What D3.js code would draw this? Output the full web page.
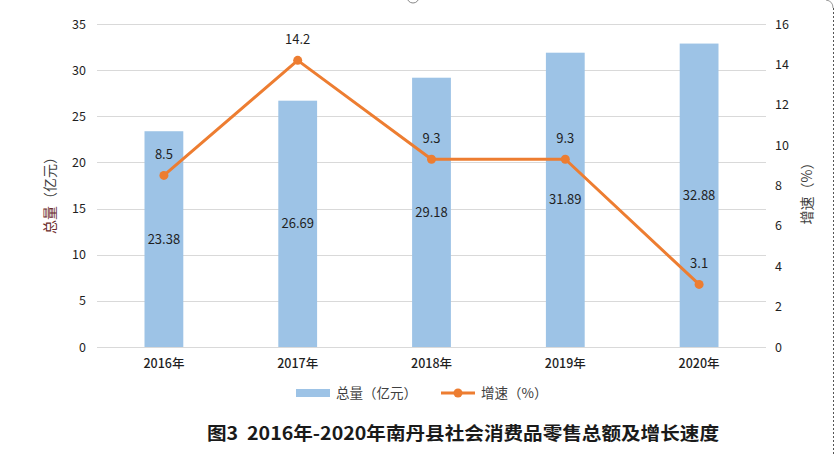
<!DOCTYPE html>
<html>
<head>
<meta charset="utf-8">
<script src="https://cdn.jsdelivr.net/npm/d3@7"></script>
<style>
  html, body { margin: 0; padding: 0; background: #fff; }
  svg text { font-family: "Noto Sans CJK SC", "Noto Sans", sans-serif; }
</style>
</head>
<body>
<div id="chart"></div>
<script>
// 2016-2020 南丹县社会消费品零售总额及增速
const years = ['2016年', '2017年', '2018年', '2019年', '2020年'];
const totals = [23.38, 26.69, 29.18, 31.89, 32.88];   // 亿元
const growth = [8.5, 14.2, 9.3, 9.3, 3.1];            // %
const leftTicks = [0, 5, 10, 15, 20, 25, 30, 35];
const rightTicks = [0, 2, 4, 6, 8, 10, 12, 14, 16];

const W = 836, H = 456;
const plot = { left: 97, right: 766, top: 24, bottom: 347 };
const BAR_COLOR = '#9DC3E6';
const LINE_COLOR = '#ED7D31';
const TEXT_COLOR = '#1f1f1f';

const svg = d3.select('#chart').append('svg')
  .attr('width', W)
  .attr('height', H);

const x = d3.scaleBand()
  .domain(years)
  .range([plot.left, plot.right])
  .paddingInner(0.71)
  .paddingOuter(0.355);

const yL = d3.scaleLinear().domain([0, 35]).range([plot.bottom, plot.top]);
const yR = d3.scaleLinear().domain([0, 16]).range([plot.bottom, plot.top]);

// gridlines
svg.append('g')
  .selectAll('line')
  .data(leftTicks)
  .join('line')
  .attr('x1', plot.left)
  .attr('x2', plot.right)
  .attr('y1', d => Math.round(yL(d)) + 0.5)
  .attr('y2', d => Math.round(yL(d)) + 0.5)
  .attr('stroke', '#d9d9d9')
  .attr('stroke-width', 1);

// left axis
const leftAxis = svg.append('g')
  .attr('transform', `translate(${plot.left},0)`)
  .call(d3.axisLeft(yL).tickValues(leftTicks).tickSize(0).tickPadding(11));
leftAxis.select('.domain').remove();
leftAxis.selectAll('text').attr('font-size', '12.5px').attr('fill', TEXT_COLOR)
  .style('font-family', '"Noto Sans CJK SC", sans-serif');

// right axis
const rightAxis = svg.append('g')
  .attr('transform', `translate(${plot.right},0)`)
  .call(d3.axisRight(yR).tickValues(rightTicks).tickSize(0).tickPadding(9));
rightAxis.select('.domain').remove();
rightAxis.selectAll('text').attr('font-size', '12.5px').attr('fill', TEXT_COLOR)
  .style('font-family', '"Noto Sans CJK SC", sans-serif');

// bottom axis
const bottomAxis = svg.append('g')
  .attr('transform', `translate(0,${plot.bottom})`)
  .call(d3.axisBottom(x).tickSize(0).tickPadding(12));
bottomAxis.select('.domain').remove();
bottomAxis.selectAll('text').attr('font-size', '12.5px').attr('fill', TEXT_COLOR)
  .attr('font-weight', '500')
  .style('font-family', '"Noto Sans CJK SC", sans-serif');

// bars
svg.append('g')
  .selectAll('rect')
  .data(totals)
  .join('rect')
  .attr('x', (d, i) => x(years[i]))
  .attr('y', d => yL(d))
  .attr('width', x.bandwidth())
  .attr('height', d => yL(0) - yL(d))
  .attr('fill', BAR_COLOR);

// bar labels (centered in bar)
svg.append('g')
  .selectAll('text')
  .data(totals)
  .join('text')
  .attr('x', (d, i) => x(years[i]) + x.bandwidth() / 2)
  .attr('y', d => yL(d / 2))
  .attr('dy', '0.35em')
  .attr('text-anchor', 'middle')
  .attr('font-size', '13px')
  .attr('fill', TEXT_COLOR)
  .text(d => d.toFixed(2));

// line
const line = d3.line()
  .x((d, i) => x(years[i]) + x.bandwidth() / 2)
  .y(d => yR(d));

svg.append('path')
  .datum(growth)
  .attr('d', line)
  .attr('fill', 'none')
  .attr('stroke', LINE_COLOR)
  .attr('stroke-width', 3)
  .attr('stroke-linejoin', 'round');

svg.append('g')
  .selectAll('circle')
  .data(growth)
  .join('circle')
  .attr('cx', (d, i) => x(years[i]) + x.bandwidth() / 2)
  .attr('cy', d => yR(d))
  .attr('r', 4.5)
  .attr('fill', LINE_COLOR);

svg.append('g')
  .selectAll('text')
  .data(growth)
  .join('text')
  .attr('x', (d, i) => x(years[i]) + x.bandwidth() / 2)
  .attr('y', d => yR(d) - 21)
  .attr('dy', '0.35em')
  .attr('text-anchor', 'middle')
  .attr('font-size', '13px')
  .attr('fill', TEXT_COLOR)
  .text(d => d);

// axis titles
const leftTitle = svg.append('text')
  .attr('transform', `translate(55,192) rotate(-90)`)
  .attr('text-anchor', 'middle')
  .attr('font-size', '14px')
  .attr('fill', '#404040');
leftTitle.append('tspan').attr('fill', '#6b2a2a').text('总量');
leftTitle.append('tspan').text('（亿元）');

svg.append('text')
  .attr('transform', `translate(812,190) rotate(-90)`)
  .attr('text-anchor', 'middle')
  .attr('font-size', '14px')
  .attr('fill', '#404040')
  .text('增速（%）');

// legend
const legend = svg.append('g').attr('transform', 'translate(0,393)');
legend.append('rect')
  .attr('x', 296).attr('y', -4)
  .attr('width', 34).attr('height', 8)
  .attr('fill', BAR_COLOR);
legend.append('text')
  .attr('x', 336).attr('y', 0).attr('dy', '0.35em')
  .attr('font-size', '13.5px').attr('fill', '#404040')
  .text('总量（亿元）');
legend.append('line')
  .attr('x1', 441).attr('x2', 475)
  .attr('y1', 0).attr('y2', 0)
  .attr('stroke', LINE_COLOR).attr('stroke-width', 3);
legend.append('circle')
  .attr('cx', 458).attr('cy', 0).attr('r', 4.5)
  .attr('fill', LINE_COLOR);
legend.append('text')
  .attr('x', 481).attr('y', 0).attr('dy', '0.35em')
  .attr('font-size', '13.5px').attr('fill', '#404040')
  .text('增速（%）');

// title
svg.append('text')
  .attr('x', 207).attr('y', 440)
  .attr('font-size', '18px')
  .attr('font-weight', 'bold')
  .attr('fill', '#1a1a1a')
  .attr('textLength', 512)
  .attr('lengthAdjust', 'spacingAndGlyphs')
  .text('图3\u00a0\u00a02016年-2020年南丹县社会消费品零售总额及增长速度');

// editor frame remnants (handle + dotted border)
svg.append('circle')
  .attr('cx', 413).attr('cy', -3).attr('r', 6)
  .attr('fill', '#fff').attr('stroke', '#888').attr('stroke-width', 1);
svg.append('path')
  .attr('d', 'M826,0 Q833,1 833,8')
  .attr('fill', 'none').attr('stroke', '#999');
svg.append('line')
  .attr('x1', 833.5).attr('x2', 833.5)
  .attr('y1', 8).attr('y2', H)
  .attr('stroke', '#555').attr('stroke-dasharray', '2,2');
</script>
</body>
</html>
